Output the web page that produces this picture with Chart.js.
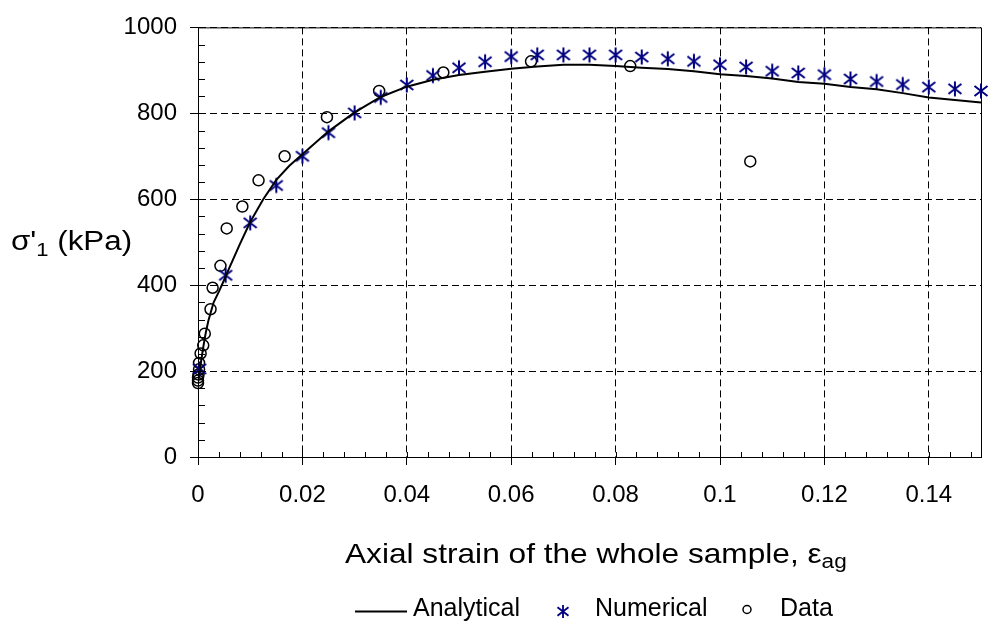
<!DOCTYPE html>
<html>
<head>
<meta charset="utf-8">
<script src="https://cdn.jsdelivr.net/npm/chart.js@4.4.1/dist/chart.umd.min.js"></script>
<style>
  html, body { margin: 0; padding: 0; background: #ffffff; }
  #wrap { width: 989px; height: 623px; }
</style>
</head>
<body>
<div id="wrap"><canvas id="c" width="989" height="623"></canvas></div>
<script>
// Analytical stress-strain curve
const analyticalStrain = [0, 0.0005, 0.001, 0.0015, 0.002, 0.003, 0.004, 0.005, 0.006, 0.008, 0.01, 0.0125, 0.015, 0.0175, 0.02, 0.025, 0.03, 0.035, 0.04, 0.045, 0.05, 0.055, 0.06, 0.065, 0.07, 0.075, 0.08, 0.085, 0.09, 0.095, 0.1, 0.105, 0.11, 0.115, 0.12, 0.125, 0.13, 0.135, 0.14, 0.145, 0.15];
const analyticalStress = [172, 215, 255, 290, 318, 360, 385, 412, 440, 495, 547, 600, 645, 678, 705, 758, 802, 838, 862, 878, 889, 897, 904, 909, 913, 913, 910, 906, 903, 898, 891, 887, 881, 873, 869, 861, 856, 847, 837, 831, 825];

// Numerical results
const numericalStrain = [0.0003, 0.0053, 0.01, 0.015, 0.02, 0.025, 0.03, 0.035, 0.04, 0.045, 0.05, 0.055, 0.06, 0.065, 0.07, 0.075, 0.08, 0.085, 0.09, 0.095, 0.1, 0.105, 0.11, 0.115, 0.12, 0.125, 0.13, 0.135, 0.14, 0.145, 0.15];
const numericalStress = [205, 423, 545, 632, 700, 755, 801, 837, 866, 888, 906, 920, 932, 936, 936, 936, 936, 931, 927, 921, 913, 908, 898, 894, 890, 880, 874, 867, 861, 857, 852];

// Laboratory measurements
const dataStrain = [0, 0, 0, 0.0001, 0.0002, 0.0002, 0.0005, 0.001, 0.0013, 0.0024, 0.0028, 0.0043, 0.0055, 0.0085, 0.0116, 0.0166, 0.0247, 0.0347, 0.047, 0.0638, 0.0828, 0.1058];
const dataStress = [172, 178, 185, 192, 204, 219, 241, 260, 287, 344, 394, 445, 532, 583, 644, 700, 791, 852, 895, 921, 910, 688];

// Axis ticks
const strainTicks = [0, 0.02, 0.04, 0.06, 0.08, 0.1, 0.12, 0.14];
const strainTickLabels = ['0', '0.02', '0.04', '0.06', '0.08', '0.1', '0.12', '0.14'];
const stressTicks = [0, 200, 400, 600, 800, 1000];
const stressTickLabels = ['0', '200', '400', '600', '800', '1000'];
const strainMinorStep = 0.004;
const stressMinorStep = 40;

const FONT = '"Liberation Sans", Arial, Helvetica, sans-serif';
const NAVY = '#000080';

function pairs(xs, ys) { return xs.map((x, i) => ({ x: x, y: ys[i] })); }

// six-armed asterisk: vertical bar plus a diagonal cross
function drawAsterisk(ctx, x, y, w, h, lw) {
  ctx.save();
  ctx.strokeStyle = NAVY;
  ctx.lineWidth = lw;
  ctx.lineCap = 'butt';
  ctx.beginPath();
  ctx.moveTo(x, y - h / 2); ctx.lineTo(x, y + h / 2);
  ctx.moveTo(x - w / 2, y - h * 0.33); ctx.lineTo(x + w / 2, y + h * 0.33);
  ctx.moveTo(x - w / 2, y + h * 0.33); ctx.lineTo(x + w / 2, y - h * 0.33);
  ctx.stroke();
  ctx.restore();
}

const starImg = document.createElement('canvas');
starImg.width = 16; starImg.height = 18;
drawAsterisk(starImg.getContext('2d'), 8, 9, 13, 15, 2);

// draw a sequence of text runs (with optional baseline shift) left to right
function drawRuns(ctx, runs, x, baseline, sx) {
  ctx.save();
  ctx.translate(x, baseline);
  ctx.scale(sx, 1);
  ctx.fillStyle = '#000';
  ctx.textBaseline = 'alphabetic';
  ctx.textAlign = 'left';
  let cx = 0;
  runs.forEach(r => {
    ctx.font = r.size + 'px ' + FONT;
    ctx.fillText(r.text, cx, r.shift || 0);
    cx += ctx.measureText(r.text).width;
  });
  ctx.restore();
}

const decorations = {
  id: 'decorations',
  afterDraw(chart) {
    const ctx = chart.ctx;
    const a = chart.chartArea;
    const xs = chart.scales.x, ys = chart.scales.y;
    ctx.save();
    ctx.strokeStyle = '#000';
    ctx.lineWidth = 1;
    // top and right frame
    ctx.beginPath();
    ctx.moveTo(a.left, a.top + 0.5); ctx.lineTo(a.right + 0.5, a.top + 0.5);
    ctx.lineTo(a.right + 0.5, a.bottom);
    ctx.stroke();
    // inner minor ticks
    ctx.beginPath();
    for (let v = 0; v <= 1000 + 1e-9; v += stressMinorStep) {
      const py = Math.round(ys.getPixelForValue(v)) + 0.5;
      ctx.moveTo(a.left, py); ctx.lineTo(a.left + 7, py);
    }
    for (let k = 0; k * strainMinorStep <= 0.15 + 1e-9; k++) {
      const px = Math.round(xs.getPixelForValue(k * strainMinorStep)) + 0.5;
      ctx.moveTo(px, a.bottom); ctx.lineTo(px, a.bottom - 5);
    }
    ctx.stroke();
    ctx.restore();

    // axis titles
    drawRuns(ctx, [
      { text: 'σ\'', size: 27 },
      { text: '1', size: 19, shift: 6 },
      { text: ' (kPa)', size: 27 }
    ], 11, 250, 1.16);
    drawRuns(ctx, [
      { text: 'Axial strain of the whole sample, ', size: 28 },
      { text: 'ε', size: 28 },
      { text: 'ag', size: 20, shift: 5 }
    ], 345, 563, 1.13);

    // legend
    const ly = 611.5;
    ctx.save();
    ctx.strokeStyle = '#000';
    ctx.lineWidth = 2;
    ctx.beginPath(); ctx.moveTo(355, ly); ctx.lineTo(407, ly); ctx.stroke();
    drawAsterisk(ctx, 563, ly, 11, 13, 1.8);
    ctx.lineWidth = 1.5;
    ctx.beginPath(); ctx.arc(747, ly - 2, 4, 0, Math.PI * 2); ctx.stroke();
    ctx.restore();
    drawRuns(ctx, [{ text: 'Analytical', size: 25 }], 413, 616, 1.0);
    drawRuns(ctx, [{ text: 'Numerical', size: 25 }], 595, 616, 1.0);
    drawRuns(ctx, [{ text: 'Data', size: 25 }], 780, 616, 1.0);
  }
};

new Chart(document.getElementById('c'), {
  type: 'scatter',
  data: {
    datasets: [
      {
        label: 'Analytical',
        type: 'line',
        data: pairs(analyticalStrain, analyticalStress),
        borderColor: '#000',
        borderWidth: 2,
        pointRadius: 0,
        tension: 0,
        fill: false
      },
      {
        label: 'Numerical',
        data: pairs(numericalStrain, numericalStress),
        pointStyle: starImg,
        pointRadius: 7,
        clip: false
      },
      {
        label: 'Data',
        data: pairs(dataStrain, dataStress),
        pointStyle: 'circle',
        pointRadius: 5.5,
        borderColor: '#000',
        backgroundColor: 'rgba(0,0,0,0)',
        borderWidth: 1.5,
        clip: false
      }
    ]
  },
  options: {
    responsive: false,
    animation: false,
    events: [],
    layout: { padding: { top: 23, right: 6, bottom: 0, left: 0 } },
    plugins: { legend: { display: false }, tooltip: { enabled: false } },
    scales: {
      x: {
        type: 'linear',
        min: 0,
        max: 0.15,
        afterFit(scale) { scale.height = 166; },
        afterBuildTicks(scale) { scale.ticks = strainTicks.map(v => ({ value: v })); },
        ticks: {
          padding: 16,
          color: '#000',
          font: { family: FONT, size: 24 },
          maxRotation: 0,
          autoSkip: false,
          callback: (v, i) => strainTickLabels[i]
        },
        grid: { color: '#000', lineWidth: 1, tickLength: 8 },
        border: { color: '#000', width: 1, dash: [7, 4] }
      },
      y: {
        type: 'linear',
        min: 0,
        max: 1000,
        afterFit(scale) { scale.width = 198; },
        afterBuildTicks(scale) { scale.ticks = stressTicks.map(v => ({ value: v })); },
        ticks: {
          padding: 13,
          color: '#000',
          font: { family: FONT, size: 24 },
          autoSkip: false,
          callback: (v, i) => stressTickLabels[i]
        },
        grid: { color: '#000', lineWidth: 1, tickLength: 8 },
        border: { color: '#000', width: 1, dash: [7, 4] }
      }
    }
  },
  plugins: [decorations]
});
</script>
</body>
</html>
